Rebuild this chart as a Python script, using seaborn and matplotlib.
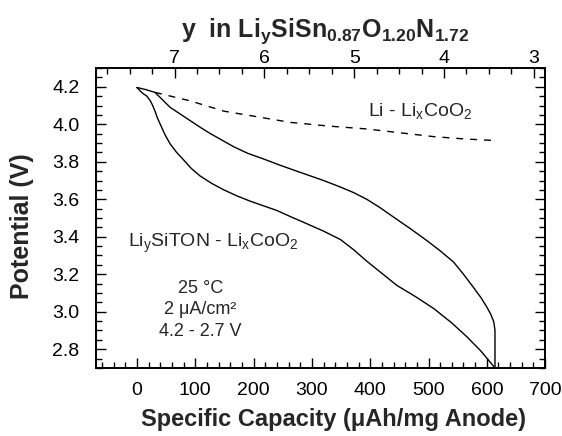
import numpy as np
import pandas as pd
import matplotlib
matplotlib.use("Agg")
import matplotlib.pyplot as plt
import seaborn as sns
from matplotlib.ticker import MultipleLocator

# values
charge_cap = [0, 15, 31, 44, 57, 74, 91, 108, 126, 146, 166, 190, 217, 245, 274, 297, 320, 349, 372, 394,
              417, 440, 468, 497, 520, 543, 560, 577, 590, 600, 607, 612, 614, 614]
charge_v = [4.196, 4.185, 4.17, 4.13, 4.09, 4.055, 4.02, 3.985, 3.95, 3.915, 3.88, 3.845, 3.815, 3.782,
            3.75, 3.725, 3.70, 3.665, 3.635, 3.60, 3.555, 3.505, 3.445, 3.38, 3.325, 3.265, 3.20, 3.13,
            3.075, 3.025, 2.985, 2.945, 2.90, 2.70]

discharge_cap = [0, 5, 10, 17, 23, 27, 31, 35, 40, 48, 57, 68, 80, 93, 108, 128, 149, 170, 194, 217, 240,
                 265, 291, 320, 349, 372, 394, 420, 446, 478, 509, 540, 566, 590, 614]
discharge_v = [4.196, 4.18, 4.165, 4.15, 4.125, 4.10, 4.07, 4.035, 4.0, 3.945, 3.895, 3.85, 3.81, 3.765,
               3.725, 3.685, 3.65, 3.62, 3.59, 3.565, 3.54, 3.505, 3.47, 3.43, 3.385, 3.33, 3.27, 3.205,
               3.14, 3.08, 3.017, 2.94, 2.866, 2.79, 2.70]

licoo2_cap = [31, 91, 149, 206, 263, 330, 394, 450, 509, 560, 615]
licoo2_v = [4.17, 4.125, 4.07, 4.04, 4.01, 3.99, 3.975, 3.955, 3.934, 3.922, 3.913]

x_min, x_max = -70, 700


def cap_to_y(c):
    # top scale: y = 3 at about 680.6 uAh/mg, 154 uAh/mg per unit of y
    return 3.0 + (680.6 - c) / 154.0


sns.set_style("ticks")
plt.rcParams["font.family"] = ["Liberation Sans", "DejaVu Sans"]
plt.rcParams["mathtext.fontset"] = "custom"
plt.rcParams["mathtext.rm"] = "Liberation Sans"
plt.rcParams["mathtext.bf"] = "Liberation Sans:bold"
plt.rcParams["mathtext.default"] = "rm"

fig = plt.figure(figsize=(5.62, 4.36), dpi=100)
ax = fig.add_axes([0.171, 0.156, 0.799, 0.688])

up = pd.DataFrame({"cap": charge_cap, "v": charge_v})
low = pd.DataFrame({"cap": discharge_cap, "v": discharge_v})
li = pd.DataFrame({"cap": licoo2_cap, "v": licoo2_v})

sns.lineplot(data=up, x="cap", y="v", sort=False, estimator=None, color="black", lw=1.0, ax=ax)
sns.lineplot(data=low, x="cap", y="v", sort=False, estimator=None, color="black", lw=1.0, ax=ax)
sns.lineplot(data=li, x="cap", y="v", sort=False, estimator=None, color="black", lw=1.0, ax=ax,
             linestyle=(0, (5, 5)))

ax.set_xlim(x_min, x_max)
ax.set_ylim(2.7, 4.3)
ax.xaxis.set_major_locator(MultipleLocator(100))
ax.xaxis.set_minor_locator(MultipleLocator(20))
ax.yaxis.set_major_locator(MultipleLocator(0.2))
ax.yaxis.set_minor_locator(MultipleLocator(0.05))
ax.yaxis.set_major_formatter(plt.FormatStrFormatter("%.1f"))
ax.tick_params(which="both", direction="in", right=True, top=False, colors="black", labelsize=14)
ax.tick_params(which="major", length=7, width=1.0)
ax.tick_params(which="minor", length=4, width=1.0)
ax.tick_params(axis="x", pad=10)
ax.tick_params(axis="y", pad=12)
for s in ax.spines.values():
    s.set_linewidth(1.2)
    s.set_color("black")

ax.set_xlabel("Specific Capacity (\u03bcAh/mg Anode)", fontsize=17, fontweight="bold")
ax.set_ylabel("Potential (V)", fontsize=18, fontweight="bold")
ax.xaxis.set_label_coords(0.528, -0.135)
ax.yaxis.set_label_coords(-0.139, 0.473)

top = ax.twiny()
top.set_xlim(cap_to_y(x_min), cap_to_y(x_max))
top.xaxis.set_major_locator(MultipleLocator(1))
top.xaxis.set_minor_locator(MultipleLocator(0.25))
top.tick_params(which="both", direction="in", colors="black", labelsize=14, pad=1)
top.tick_params(which="major", length=7, width=1.0)
top.tick_params(which="minor", length=4, width=1.0)
top.set_xlabel(r"y  in Li$\mathbf{_y}$SiSn$\mathbf{_{0.87}}$O$\mathbf{_{1.20}}$N$\mathbf{_{1.72}}$",
               fontsize=18, fontweight="bold")
top.xaxis.set_label_coords(0.51, 1.105)
for s in top.spines.values():
    s.set_linewidth(1.2)
    s.set_color("black")

ax.text(486, 4.07, r"Li - Li$_{\mathrm{x}}$CoO$_{2}$", fontsize=14, ha="center", va="center")
ax.text(130, 3.365, r"Li$_{\mathrm{y}}$SiTON - Li$_{\mathrm{x}}$CoO$_{2}$", fontsize=14, ha="center", va="center")
ax.text(109, 3.125, "25 \u00b0C", fontsize=13, ha="center", va="center")
ax.text(109, 3.01, "2 \u03bcA/cm\u00b2", fontsize=13, ha="center", va="center")
ax.text(109, 2.895, "4.2 - 2.7 V", fontsize=13, ha="center", va="center")

fig.savefig("out.png", dpi=100)
